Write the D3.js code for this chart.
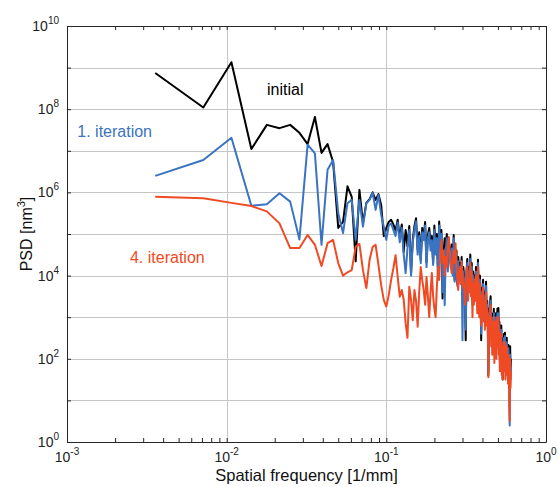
<!DOCTYPE html>
<html><head><meta charset="utf-8">
<script src="https://cdn.jsdelivr.net/npm/d3@7"></script>
<style>
body{margin:0;background:#fff}
svg{display:block}
text{font-family:"Liberation Sans",Arial,Helvetica,sans-serif}
</style>
</head><body>
<svg id="chart" width="558" height="487"></svg>
<script>
// Spatial frequency sampling step [1/mm] (PSD bins are evenly spaced)
const freqStep = 0.00357;

// PSD [nm^3], one value per frequency bin
const initial = [
  7.4e8, 1.1e8, 1.35e9, 1.1e7, 4.2e7, 3.5e7, 4.2e7, 2.7e7, 1.45e7, 6.5e7,
  8.9e6, 1.45e7, 5.4e6, 1.4e5, 1.95e5, 1.4e6, 7.8e5, 2.2e4, 1.15e6, 1.8e5,
  5.6e5, 6.9e5, 1.0e6, 6.6e5, 9.1e5, 5.0e5, 8.9e4, 1.4e5, 1.95e5, 2.2e5,
  1.7e5, 1.2e5, 2.2e5, 7.9e4, 1.7e5, 3.7e4, 1.25e5, 5.1e4, 1.55e5, 1.15e4,
  7.2e4, 1.55e5, 2.4e5, 4.2e4, 1.1e5, 2.4e4, 1.4e5, 7.9e4, 1.95e5, 2.1e4,
  9.5e4, 1.4e5, 5.8e4, 8.9e4, 2.0e4, 1.6e5, 4.0e4, 1.0e5, 1.25e4, 2.0e5,
  6.3e4, 1.25e5, 2.8e3, 4.0e4, 7.9e4, 5.0e4, 1.0e5, 1.6e4, 7.1e4, 4.0e4,
  2.0e4, 5.6e4, 1.25e4, 9.5e4, 7.9e3, 3.2e4, 4.0e4, 6.3e3, 2.8e4, 1.6e4,
  2.0e4, 7.9e3, 2.8e4, 4.0e3, 1.6e4, 1.0e4, 3.2e3, 280, 1.25e4, 2.5e4,
  5.0e3, 1.6e4, 7.9e3, 3.2e4, 6.3e3, 2.0e4, 2.5e3, 1.25e4, 5.0e3, 1.0e4,
  4.0e3, 1.6e4, 7.9e3, 3.2e3, 2.4e4, 6.3e3, 2.0e3, 1.0e4, 4.0e3, 280,
  5.0e3, 2.5e3, 7.9e3, 1.6e3, 4.0e3, 1.0e3, 3.2e3, 7.1e3, 1.25e3, 2.5e3,
  1.0e3, 40, 1.6e3, 630, 2.0e3, 3.2e3, 400, 1.25e3, 250, 1.0e3,
  500, 1.6e3, 160, 790, 320, 1.25e3, 200, 630, 1.6e3, 400,
  1.66e3, 250, 790, 100, 500, 200, 630, 79, 320, 32,
  250, 100, 400, 160, 420, 63, 200, 79, 320, 125,
  200, 50, 215, 100, 20, 40, 200, 50, 100
];
const iteration1 = [
  2.5e6, 6.0e6, 2.05e7, 4.8e5, 5.2e5, 9.5e5, 6.0e5, 7.4e4, 1.4e7, 8.7e6,
  5.5e4, 3.5e6, 6.0e6, 3.2e5, 1.05e5, 5.5e5, 6.6e5, 7.2e4, 6.6e5, 1.5e5,
  5.5e5, 6.6e5, 9.8e5, 3.8e5, 8.7e5, 2.9e5, 1.5e5, 7.2e4, 1.6e5, 1.8e5,
  1.25e5, 8.9e4, 1.9e5, 6.3e4, 1.4e5, 3.2e4, 1.15e4, 4.5e4, 1.25e5, 1.0e4,
  6.3e4, 1.25e5, 2.0e5, 3.2e4, 8.9e4, 2.0e4, 1.1e5, 7.1e4, 1.6e5, 1.6e4,
  7.9e4, 1.1e5, 4.0e4, 7.1e4, 1.8e4, 1.25e5, 3.2e4, 7.9e4, 1.0e4, 1.6e5,
  5.0e4, 1.0e5, 4.0e3, 3.2e4, 1.95e3, 4.0e4, 7.9e4, 1.25e4, 5.6e4, 3.2e4,
  1.6e4, 4.5e4, 1.0e4, 7.9e4, 7.1e3, 2.5e4, 3.2e4, 5.6e3, 2.2e4, 1.25e4,
  1.6e4, 6.3e3, 2.2e4, 280, 1.25e4, 7.9e3, 2.5e3, 500, 1.0e4, 2.0e4,
  4.0e3, 1.25e4, 6.3e3, 2.5e4, 5.0e3, 1.6e4, 2.0e3, 1.0e4, 4.0e3, 7.9e3,
  3.2e3, 1.25e4, 6.3e3, 2.5e3, 2.0e4, 5.0e3, 1.6e3, 7.9e3, 3.2e3, 400,
  4.0e3, 2.0e3, 6.3e3, 1.25e3, 3.2e3, 790, 2.5e3, 5.6e3, 1.0e3, 2.0e3,
  790, 50, 1.25e3, 500, 1.6e3, 2.5e3, 320, 1.0e3, 200, 790,
  400, 1.25e3, 125, 630, 250, 1.0e3, 160, 500, 1.25e3, 320,
  1.25e3, 200, 630, 79, 400, 160, 500, 63, 250, 40,
  200, 79, 320, 125, 355, 50, 160, 63, 250, 100,
  160, 40, 180, 79, 10, 2.5, 125, 32, 63
];
const iteration4 = [
  7.9e5, 7.2e5, 5.6e5, 4.7e5, 3.5e5, 1.8e5, 4.6e4, 4.6e4, 9.5e4, 5.5e4,
  1.7e4, 6.0e4, 7.2e4, 2.0e4, 1.0e4, 1.2e4, 1.35e4, 4.9e4, 5.8e4, 1.35e4,
  5.0e3, 2.4e4, 4.9e4, 5.5e4, 1.8e4, 5.9e3, 2.6e3, 1.8e3, 3.4e3, 7.8e3,
  1.5e4, 3.1e4, 9.3e3, 3.1e3, 4.5e3, 2.6e3, 720, 320, 5.4e3, 2.6e3,
  850, 4.5e3, 2.5e3, 590, 4.0e3, 1.6e4, 7.9e3, 4.5e3, 2.0e3, 9.3e3,
  3.2e3, 1.0e3, 4.0e3, 1.15e4, 3.2e3, 1.6e3, 1.0e3, 5.0e3, 1.6e4, 7.9e3,
  3.2e4, 7.2e4, 2.0e4, 4.0e4, 1.0e4, 2.8e4, 1.6e4, 5.0e4, 8.5e4, 3.2e4,
  1.6e4, 1.15e4, 2.5e4, 4.0e4, 2.0e4, 6.0e4, 1.6e4, 7.9e3, 4.5e3, 1.25e4,
  1.6e4, 6.3e3, 2.2e4, 1.0e4, 5.0e3, 6.3e3, 2.0e3, 7.9e3, 1.0e4, 1.6e4,
  2.5e3, 7.9e3, 4.0e3, 2.0e4, 3.2e3, 1.25e4, 1.0e3, 6.3e3, 2.0e3, 7.9e3,
  2.5e3, 1.0e4, 4.0e3, 1.25e3, 1.6e4, 3.2e3, 1.0e3, 6.3e3, 1.6e3, 630,
  3.2e3, 1.25e3, 5.0e3, 790, 2.5e3, 500, 2.0e3, 4.0e3, 630, 1.6e3,
  500, 36, 1.0e3, 320, 1.25e3, 2.0e3, 200, 790, 125, 630,
  250, 1.0e3, 79, 500, 160, 790, 100, 400, 1.0e3, 200,
  1.0e3, 125, 500, 50, 320, 100, 400, 40, 200, 32,
  160, 50, 250, 79, 250, 32, 125, 40, 200, 63,
  125, 25, 125, 50, 7.9, 3.2, 100, 20, 50
];

const seriesNames = ["initial", "1. iteration", "4. iteration"];
const seriesColors = ["#000000", "#3a73c1", "#f04a24"];
// annotation anchor points (frequency, PSD) for each series label
const labelFreqs = [0.0179, 0.00116, 0.00248];
const labelPsd = [2.2e8, 2.1e7, 2.0e4];
const xTickExponents = [-3, -2, -1, 0];
const yTickExponents = [0, 2, 4, 6, 8, 10];
const xLabel = "Spatial frequency [1/mm]";

const W = 558, H = 487;
const margin = {left: 67, right: 12, top: 26, bottom: 45};
const svg = d3.select("#chart");

const x = d3.scaleLog().domain([1e-3, 1]).range([margin.left, W - margin.right]);
const y = d3.scaleLog().domain([1, 1e10]).range([H - margin.bottom, margin.top]);

const x0 = x.range()[0], x1 = x.range()[1], y0 = y.range()[0], y1 = y.range()[1];

// grid
const grid = svg.append("g").attr("stroke", "#c6c6c6").attr("stroke-width", 1);
grid.selectAll("line.v").data([1e-2, 1e-1]).join("line")
  .attr("x1", d => Math.round(x(d)) + 0.5).attr("x2", d => Math.round(x(d)) + 0.5)
  .attr("y1", y1).attr("y2", y0);
grid.selectAll("line.h").data(d3.range(1, 10).map(e => Math.pow(10, e))).join("line")
  .attr("y1", d => Math.round(y(d)) + 0.5).attr("y2", d => Math.round(y(d)) + 0.5)
  .attr("x1", x0).attr("x2", x1);

// data lines
const freqs = initial.map((_, i) => (i + 1) * freqStep);
const line = d3.line().x((d, i) => x(freqs[i])).y(d => y(d));
svg.append("clipPath").attr("id", "clip").append("rect")
  .attr("x", x0).attr("y", y1).attr("width", x1 - x0).attr("height", y0 - y1);
const plot = svg.append("g").attr("clip-path", "url(#clip)");
[initial, iteration1, iteration4].forEach((s, i) => {
  plot.append("path").datum(s)
    .attr("fill", "none").attr("stroke", seriesColors[i])
    .attr("stroke-width", 2).attr("stroke-linejoin", "round")
    .attr("d", line);
});

// ticks
const xMinor = [];
for (let e = -3; e < 0; e++) for (let m = 1; m < 10; m++) xMinor.push(m * Math.pow(10, e));
xMinor.push(1);
const yMajor = d3.range(0, 11).map(e => Math.pow(10, e));

function styleAxis(g) {
  g.select(".domain").attr("stroke", "#262626").attr("stroke-width", 1);
  g.selectAll(".tick line").attr("stroke", "#262626");
}
svg.append("g").attr("transform", `translate(0,${y0})`)
  .call(d3.axisBottom(x).tickValues(xMinor).tickSize(-4).tickSizeOuter(0).tickFormat(""))
  .call(styleAxis);
svg.append("g").attr("transform", `translate(0,${y1})`)
  .call(d3.axisTop(x).tickValues(xMinor).tickSize(-4).tickSizeOuter(0).tickFormat(""))
  .call(styleAxis);
svg.append("g").attr("transform", `translate(${x0},0)`)
  .call(d3.axisLeft(y).tickValues(yMajor).tickSize(-4).tickSizeOuter(0).tickFormat(""))
  .call(styleAxis);
svg.append("g").attr("transform", `translate(${x1},0)`)
  .call(d3.axisRight(y).tickValues(yMajor).tickSize(-4).tickSizeOuter(0).tickFormat(""))
  .call(styleAxis);

// tick labels with superscripts
const labelColor = "#222";
xTickExponents.forEach(e => {
  const t = svg.append("text").attr("x", x(Math.pow(10, e))).attr("y", y0 + 20)
    .attr("text-anchor", "middle").attr("font-size", 14).attr("fill", labelColor);
  t.append("tspan").text("10");
  t.append("tspan").attr("dy", -7).attr("font-size", 10).text(e === 0 ? "0" : "-" + Math.abs(e));
});
yTickExponents.forEach(e => {
  const t = svg.append("text").attr("x", margin.left - 8).attr("y", y(Math.pow(10, e)) + 5)
    .attr("text-anchor", "end").attr("font-size", 14).attr("fill", labelColor);
  t.append("tspan").text("10");
  t.append("tspan").attr("dy", -7).attr("font-size", 10).text(String(e));
});

// axis titles
svg.append("text").attr("x", (x0 + x1) / 2).attr("y", H - 6)
  .attr("text-anchor", "middle").attr("font-size", 16.5).attr("fill", "#111").text(xLabel);
const yt = svg.append("text").attr("transform", `translate(32,${(y0 + y1) / 2}) rotate(-90)`)
  .attr("text-anchor", "middle").attr("font-size", 16).attr("fill", "#111");
yt.append("tspan").text("PSD [nm");
yt.append("tspan").attr("dy", -7).attr("font-size", 11).text("3");
yt.append("tspan").attr("dy", 7).text("]");

// series annotations
seriesNames.forEach((name, i) => {
  svg.append("text").attr("x", x(labelFreqs[i])).attr("y", y(labelPsd[i]))
    .attr("font-size", 16).attr("fill", seriesColors[i]).text(name);
});
</script>
</body></html>
